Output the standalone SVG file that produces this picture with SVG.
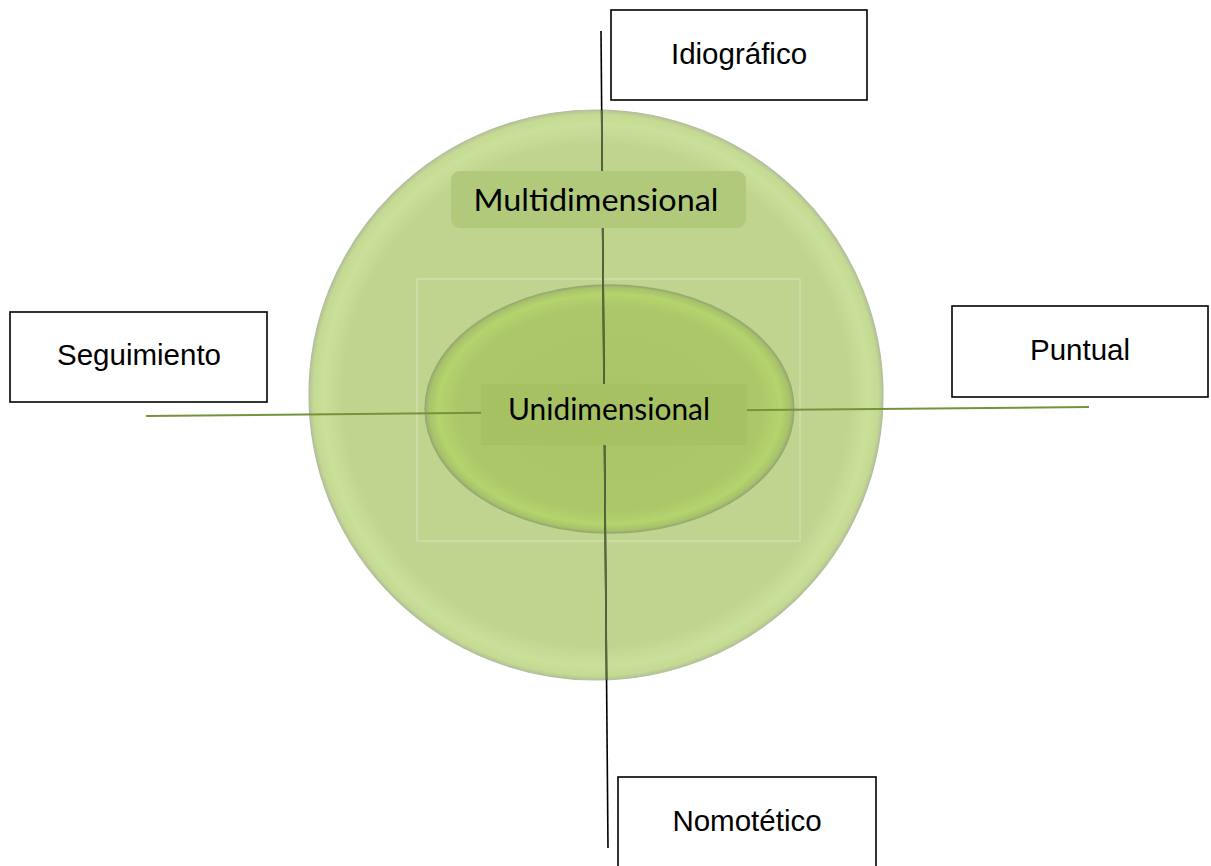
<svg xmlns="http://www.w3.org/2000/svg" width="1211" height="866" viewBox="0 0 1211 866">
  <defs>
    <radialGradient id="gOuter" cx="0.5" cy="0.5" r="0.5">
      <stop offset="0" stop-color="#c0d490"/>
      <stop offset="0.88" stop-color="#c0d490"/>
      <stop offset="0.95" stop-color="#c9e09a"/>
      <stop offset="0.985" stop-color="#c4da92"/>
      <stop offset="1" stop-color="#b4c298"/>
    </radialGradient>
    <radialGradient id="gInner" cx="0.5" cy="0.5" r="0.5">
      <stop offset="0" stop-color="#a9c466"/>
      <stop offset="0.82" stop-color="#abc769"/>
      <stop offset="0.93" stop-color="#b4d46e"/>
      <stop offset="0.98" stop-color="#a8c26a"/>
      <stop offset="1" stop-color="#98ac72"/>
    </radialGradient>
    <clipPath id="clipCircle">
      <ellipse cx="596" cy="395" rx="287" ry="285"/>
    </clipPath>
    <style>
      .box { fill: #ffffff; stroke: #000000; stroke-width: 1.6; }
      .lbl { font-family: "Liberation Sans", Arial, sans-serif; font-size: 29.5px; fill: #000000; text-anchor: middle; }
      .inner { font-family: Lato, "Open Sans", sans-serif; font-size: 31px; fill: #000000; text-anchor: middle; }
      .vline { stroke: #000000; stroke-width: 1.6; fill: none; }
      .vline-in { stroke: #55693a; stroke-width: 1.8; fill: none; }
      .hline { stroke: #76923c; stroke-width: 2; fill: none; }
    </style>
  </defs>
  <rect width="1211" height="866" fill="#ffffff"/>

  <g id="outer-circle">
    <ellipse cx="596" cy="395" rx="287" ry="285" fill="url(#gOuter)" stroke="#b2bf9a" stroke-width="1.2"/>
  </g>
  <g id="inner-ellipse">
    <rect x="417" y="279" width="383" height="262" fill="none" stroke="#d6e3bd" stroke-width="1"/>
    <ellipse cx="609.5" cy="409" rx="184.5" ry="124" fill="url(#gInner)" stroke="#97aa70" stroke-width="1.3"/>
  </g>

  <g id="connectors">
    <line class="vline" x1="601" y1="31" x2="608" y2="848"/>
    <line class="vline-in" x1="601" y1="31" x2="608" y2="848" clip-path="url(#clipCircle)"/>
    <line class="hline" x1="146" y1="416" x2="1089" y2="407"/>
  </g>

  <g id="multidimensional">
    <rect x="451" y="171" width="295" height="57" rx="9" ry="9" fill="#b0c97a"/>
    <text class="inner" x="596" y="211" textLength="245" lengthAdjust="spacingAndGlyphs">Multidimensional</text>
  </g>
  <g id="unidimensional">
    <rect x="481" y="384" width="266" height="61" fill="#a6c162"/>
    <text class="inner" x="609" y="420" textLength="202" lengthAdjust="spacingAndGlyphs">Unidimensional</text>
  </g>

  <g id="idiografico">
    <rect class="box" x="611" y="10" width="256" height="90"/>
    <text class="lbl" x="739" y="64">Idiográfico</text>
  </g>
  <g id="seguimiento">
    <rect class="box" x="10" y="312" width="257" height="90"/>
    <text class="lbl" x="139" y="365">Seguimiento</text>
  </g>
  <g id="puntual">
    <rect class="box" x="952" y="306" width="256" height="91"/>
    <text class="lbl" x="1080" y="360">Puntual</text>
  </g>
  <g id="nomotetico">
    <rect class="box" x="618" y="777" width="258" height="100"/>
    <text class="lbl" x="747" y="831">Nomotético</text>
  </g>
</svg>
